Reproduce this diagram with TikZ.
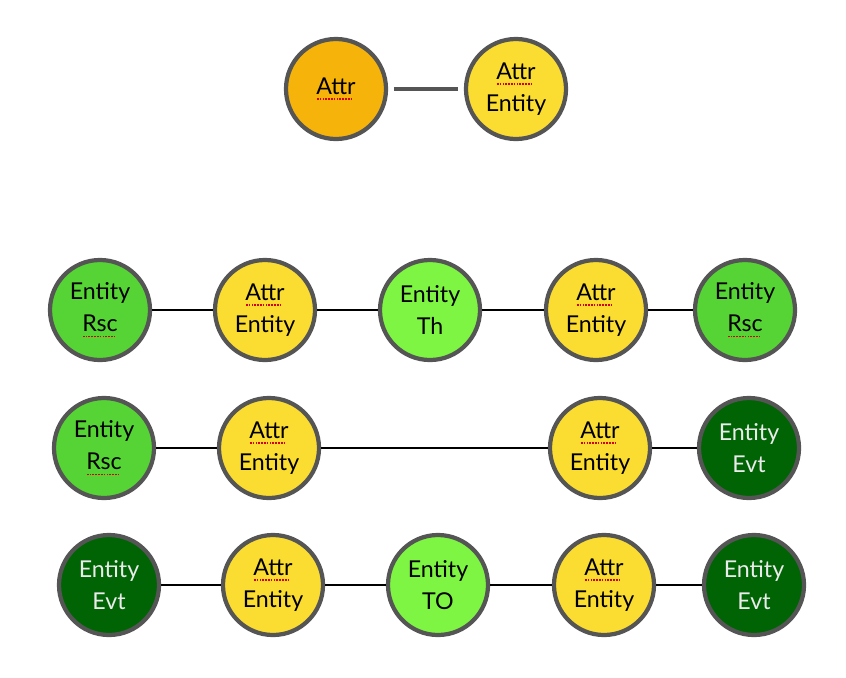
\documentclass[tikz,border=0pt]{standalone}
\usepackage{fontspec}
\setmainfont{Lato}
\usetikzlibrary{positioning}
\definecolor{attrorange}{HTML}{F6B30A}
\definecolor{attryellow}{HTML}{FBDC31}
\definecolor{rscgreen}{HTML}{56D335}
\definecolor{thgreen}{HTML}{7EF443}
\definecolor{evtgreen}{HTML}{006405}
\definecolor{rimgray}{HTML}{555555}
\newcommand\spell[1]{\setbox0\hbox{#1}\rlap{\raisebox{-4pt}{\color{red!85!black}\leaders\hbox to 2pt{\hss\rule{1.2pt}{1.2pt}\hss}\hskip\wd0}}\box0}

\begin{document}
\begin{tikzpicture}[x=0.025cm,y=-0.025cm,
  ent/.style={circle,draw=rimgray,line width=3pt,minimum size=2.5cm,inner sep=0pt,align=center,font=\fontsize{16.5}{23}\selectfont},
  attr/.style={ent,fill=attrorange},
  attrent/.style={ent,fill=attryellow},
  rsc/.style={ent,fill=rscgreen},
  th/.style={ent,fill=thgreen},
  evt/.style={ent,fill=evtgreen,text=white!92!black},
  link/.style={line width=1.4pt}]
  \useasboundingbox (0,0) rectangle (846,677);
  % top pair
  \node[attr] (A) at (336,89) {\spell{Attr}};
  \node[attrent] (AE) at (516,89) {\spell{Attr}\\Entity};
  \draw[rimgray,line width=3pt,shorten <=4pt,shorten >=4pt] (A)--(AE);
  % row 1
  \node[rsc] (R1a) at (100,310) {Entity\\\spell{Rsc}};
  \node[attrent] (R1b) at (265,310) {\spell{Attr}\\Entity};
  \node[th] (R1c) at (430,310) {Entity\\Th};
  \node[attrent] (R1d) at (596,310) {\spell{Attr}\\Entity};
  \node[rsc] (R1e) at (745,310) {Entity\\\spell{Rsc}};
  \draw[link] (R1a)--(R1b)--(R1c)--(R1d)--(R1e);
  % row 2
  \node[rsc] (R2a) at (104,448) {Entity\\\spell{Rsc}};
  \node[attrent] (R2b) at (269,448) {\spell{Attr}\\Entity};
  \node[attrent] (R2c) at (600,448) {\spell{Attr}\\Entity};
  \node[evt] (R2d) at (749,448) {Entity\\Evt};
  \draw[link] (R2a)--(R2b)--(R2c)--(R2d);
  % row 3
  \node[evt] (R3a) at (109,585) {Entity\\Evt};
  \node[attrent] (R3b) at (273,585) {\spell{Attr}\\Entity};
  \node[th] (R3c) at (438,585) {Entity\\TO};
  \node[attrent] (R3d) at (604,585) {\spell{Attr}\\Entity};
  \node[evt] (R3e) at (754,585) {Entity\\Evt};
  \draw[link] (R3a)--(R3b)--(R3c)--(R3d)--(R3e);
\end{tikzpicture}
\end{document}
